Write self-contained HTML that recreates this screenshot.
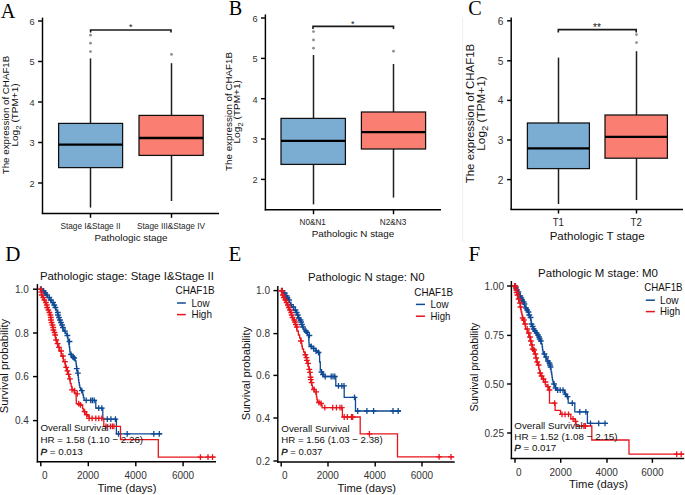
<!DOCTYPE html>
<html><head><meta charset="utf-8"><style>
html,body{margin:0;padding:0;background:#fff;}
svg{display:block;}
text{font-family:"Liberation Sans", sans-serif;}
text.serif{font-family:"Liberation Serif", serif;}
</style></head><body>
<svg width="685" height="495" viewBox="0 0 685 495">
<rect width="685" height="495" fill="#fff"/>
<line x1="42.5" y1="17.6" x2="42.5" y2="214.1" stroke="#000" stroke-width="1.45"/>
<line x1="41.8" y1="213.4" x2="219" y2="213.4" stroke="#000" stroke-width="1.45"/>
<line x1="38.1" y1="21" x2="42.5" y2="21" stroke="#000" stroke-width="1.45"/>
<text x="34.6" y="24.81" font-size="9.2" fill="#333" text-anchor="end">6</text>
<line x1="38.1" y1="61.5" x2="42.5" y2="61.5" stroke="#000" stroke-width="1.45"/>
<text x="34.6" y="65.31" font-size="9.2" fill="#333" text-anchor="end">5</text>
<line x1="38.1" y1="102" x2="42.5" y2="102" stroke="#000" stroke-width="1.45"/>
<text x="34.6" y="105.81" font-size="9.2" fill="#333" text-anchor="end">4</text>
<line x1="38.1" y1="142.5" x2="42.5" y2="142.5" stroke="#000" stroke-width="1.45"/>
<text x="34.6" y="146.31" font-size="9.2" fill="#333" text-anchor="end">3</text>
<line x1="38.1" y1="183" x2="42.5" y2="183" stroke="#000" stroke-width="1.45"/>
<text x="34.6" y="186.81" font-size="9.2" fill="#333" text-anchor="end">2</text>
<line x1="90.5" y1="58.4" x2="90.5" y2="123.4" stroke="#1e1e1e" stroke-width="1.5"/>
<line x1="90.5" y1="167.6" x2="90.5" y2="207.6" stroke="#1e1e1e" stroke-width="1.5"/>
<rect x="58.6" y="123.4" width="64" height="44.2" fill="#7BADD3" stroke="#111" stroke-width="1.25"/>
<line x1="58.6" y1="144.6" x2="122.6" y2="144.6" stroke="#000" stroke-width="2.3"/>
<circle cx="90.5" cy="35.2" r="1.4" fill="#8e8e8e"/>
<circle cx="90.5" cy="43.2" r="1.4" fill="#8e8e8e"/>
<circle cx="90.5" cy="51.6" r="1.4" fill="#8e8e8e"/>
<line x1="90.5" y1="213.4" x2="90.5" y2="217.8" stroke="#000" stroke-width="1.45"/>
<line x1="171.5" y1="63.2" x2="171.5" y2="115.4" stroke="#1e1e1e" stroke-width="1.5"/>
<line x1="171.5" y1="155.4" x2="171.5" y2="201" stroke="#1e1e1e" stroke-width="1.5"/>
<rect x="139" y="115.4" width="64.2" height="40" fill="#FA7F72" stroke="#111" stroke-width="1.25"/>
<line x1="139" y1="138" x2="203.2" y2="138" stroke="#000" stroke-width="2.3"/>
<circle cx="171.5" cy="54.4" r="1.4" fill="#8e8e8e"/>
<line x1="171.5" y1="213.4" x2="171.5" y2="217.8" stroke="#000" stroke-width="1.45"/>
<text x="90.5" y="228.6" font-size="8.6" fill="#1e1e1e" text-anchor="middle" textLength="60" lengthAdjust="spacingAndGlyphs">Stage I&amp;Stage II</text>
<text x="171" y="228.6" font-size="8.6" fill="#1e1e1e" text-anchor="middle" textLength="68" lengthAdjust="spacingAndGlyphs">Stage III&amp;Stage IV</text>
<path d="M90.6,32.6 V30 H171 V32.6" stroke="#1a1a1a" stroke-width="1.6" fill="none"/>
<text x="130.8" y="30" font-size="9" fill="#111" text-anchor="middle">*</text>
<text x="131" y="241" font-size="9.8" fill="#111" text-anchor="middle" textLength="73" lengthAdjust="spacingAndGlyphs">Pathologic stage</text>
<text transform="translate(9.2,115) rotate(-90)" font-size="9.7" fill="#111" text-anchor="middle" textLength="118.5" lengthAdjust="spacingAndGlyphs">The expression of CHAF1B</text>
<text transform="translate(18,115) rotate(-90)" font-size="9.7" fill="#111" text-anchor="middle" textLength="63" lengthAdjust="spacingAndGlyphs">Log<tspan font-size="7.76" dy="2.72">2</tspan><tspan dy="-2.72"> (TPM+1)</tspan></text>
<text class="serif" x="0.8" y="17.8" font-size="20.2" fill="#000" text-anchor="start">A</text>
<line x1="265.4" y1="14.4" x2="265.4" y2="210.5" stroke="#000" stroke-width="1.45"/>
<line x1="264.7" y1="209.8" x2="441" y2="209.8" stroke="#000" stroke-width="1.45"/>
<line x1="261" y1="18" x2="265.4" y2="18" stroke="#000" stroke-width="1.45"/>
<text x="257.5" y="21.81" font-size="9.2" fill="#333" text-anchor="end">6</text>
<line x1="261" y1="58.4" x2="265.4" y2="58.4" stroke="#000" stroke-width="1.45"/>
<text x="257.5" y="62.21" font-size="9.2" fill="#333" text-anchor="end">5</text>
<line x1="261" y1="98.7" x2="265.4" y2="98.7" stroke="#000" stroke-width="1.45"/>
<text x="257.5" y="102.51" font-size="9.2" fill="#333" text-anchor="end">4</text>
<line x1="261" y1="139" x2="265.4" y2="139" stroke="#000" stroke-width="1.45"/>
<text x="257.5" y="142.81" font-size="9.2" fill="#333" text-anchor="end">3</text>
<line x1="261" y1="179.4" x2="265.4" y2="179.4" stroke="#000" stroke-width="1.45"/>
<text x="257.5" y="183.21" font-size="9.2" fill="#333" text-anchor="end">2</text>
<line x1="313.5" y1="55" x2="313.5" y2="118.4" stroke="#1e1e1e" stroke-width="1.5"/>
<line x1="313.5" y1="164.4" x2="313.5" y2="204.4" stroke="#1e1e1e" stroke-width="1.5"/>
<rect x="281" y="118.4" width="64.4" height="46" fill="#7BADD3" stroke="#111" stroke-width="1.25"/>
<line x1="281" y1="140.8" x2="345.4" y2="140.8" stroke="#000" stroke-width="2.3"/>
<circle cx="313.5" cy="31.6" r="1.4" fill="#8e8e8e"/>
<circle cx="313.5" cy="40" r="1.4" fill="#8e8e8e"/>
<circle cx="313.5" cy="48.2" r="1.4" fill="#8e8e8e"/>
<line x1="313.5" y1="209.8" x2="313.5" y2="214.2" stroke="#000" stroke-width="1.45"/>
<line x1="393.5" y1="64" x2="393.5" y2="112" stroke="#1e1e1e" stroke-width="1.5"/>
<line x1="393.5" y1="149" x2="393.5" y2="197.6" stroke="#1e1e1e" stroke-width="1.5"/>
<rect x="361.4" y="112" width="64.2" height="37" fill="#FA7F72" stroke="#111" stroke-width="1.25"/>
<line x1="361.4" y1="132.2" x2="425.6" y2="132.2" stroke="#000" stroke-width="2.3"/>
<circle cx="393.5" cy="51.2" r="1.4" fill="#8e8e8e"/>
<line x1="393.5" y1="209.8" x2="393.5" y2="214.2" stroke="#000" stroke-width="1.45"/>
<text x="312.7" y="224.6" font-size="8.6" fill="#1e1e1e" text-anchor="middle" textLength="26.2" lengthAdjust="spacingAndGlyphs">N0&amp;N1</text>
<text x="393" y="224.6" font-size="8.6" fill="#1e1e1e" text-anchor="middle" textLength="26.6" lengthAdjust="spacingAndGlyphs">N2&amp;N3</text>
<path d="M313,29 V26.4 H393.5 V29" stroke="#1a1a1a" stroke-width="1.6" fill="none"/>
<text x="352.8" y="26.7" font-size="9" fill="#111" text-anchor="middle">*</text>
<text x="353" y="237" font-size="9.8" fill="#111" text-anchor="middle" textLength="82.5" lengthAdjust="spacingAndGlyphs">Pathologic N stage</text>
<text transform="translate(231.5,111.5) rotate(-90)" font-size="9.7" fill="#111" text-anchor="middle" textLength="118.8" lengthAdjust="spacingAndGlyphs">The expression of CHAF1B</text>
<text transform="translate(240.3,111.8) rotate(-90)" font-size="9.7" fill="#111" text-anchor="middle" textLength="63.5" lengthAdjust="spacingAndGlyphs">Log<tspan font-size="7.76" dy="2.72">2</tspan><tspan dy="-2.72"> (TPM+1)</tspan></text>
<text class="serif" x="228.7" y="14.7" font-size="20.2" fill="#000" text-anchor="start">B</text>
<line x1="462.7" y1="17" x2="462.7" y2="242" stroke="#f0f0f0" stroke-width="1"/>
<line x1="511.2" y1="17.6" x2="511.2" y2="210.1" stroke="#000" stroke-width="1.45"/>
<line x1="510.5" y1="209.4" x2="683" y2="209.4" stroke="#000" stroke-width="1.45"/>
<line x1="507.1" y1="20.8" x2="511.2" y2="20.8" stroke="#000" stroke-width="1.45"/>
<text x="503.4" y="24.87" font-size="10.2" fill="#333" text-anchor="end">6</text>
<line x1="507.1" y1="60.8" x2="511.2" y2="60.8" stroke="#000" stroke-width="1.45"/>
<text x="503.4" y="64.87" font-size="10.2" fill="#333" text-anchor="end">5</text>
<line x1="507.1" y1="100.4" x2="511.2" y2="100.4" stroke="#000" stroke-width="1.45"/>
<text x="503.4" y="104.47" font-size="10.2" fill="#333" text-anchor="end">4</text>
<line x1="507.1" y1="140" x2="511.2" y2="140" stroke="#000" stroke-width="1.45"/>
<text x="503.4" y="144.07" font-size="10.2" fill="#333" text-anchor="end">3</text>
<line x1="507.1" y1="179.6" x2="511.2" y2="179.6" stroke="#000" stroke-width="1.45"/>
<text x="503.4" y="183.67" font-size="10.2" fill="#333" text-anchor="end">2</text>
<line x1="558.5" y1="57.6" x2="558.5" y2="123" stroke="#1e1e1e" stroke-width="1.5"/>
<line x1="558.5" y1="168.6" x2="558.5" y2="204" stroke="#1e1e1e" stroke-width="1.5"/>
<rect x="527.4" y="123" width="62" height="45.6" fill="#7BADD3" stroke="#111" stroke-width="1.25"/>
<line x1="527.4" y1="148.4" x2="589.4" y2="148.4" stroke="#000" stroke-width="2.3"/>
<line x1="558.5" y1="209.4" x2="558.5" y2="213.5" stroke="#000" stroke-width="1.45"/>
<line x1="636.5" y1="51.2" x2="636.5" y2="115" stroke="#1e1e1e" stroke-width="1.5"/>
<line x1="636.5" y1="158.2" x2="636.5" y2="200" stroke="#1e1e1e" stroke-width="1.5"/>
<rect x="605" y="115" width="62.4" height="43.2" fill="#FA7F72" stroke="#111" stroke-width="1.25"/>
<line x1="605" y1="136.9" x2="667.4" y2="136.9" stroke="#000" stroke-width="2.3"/>
<circle cx="636.5" cy="34.6" r="1.4" fill="#8e8e8e"/>
<circle cx="636.5" cy="42.6" r="1.4" fill="#8e8e8e"/>
<line x1="636.5" y1="209.4" x2="636.5" y2="213.5" stroke="#000" stroke-width="1.45"/>
<text x="558.3" y="226" font-size="10.3" fill="#1e1e1e" text-anchor="middle" textLength="11.2" lengthAdjust="spacingAndGlyphs">T1</text>
<text x="636.2" y="226" font-size="10.3" fill="#1e1e1e" text-anchor="middle" textLength="11.2" lengthAdjust="spacingAndGlyphs">T2</text>
<path d="M558.3,32.4 V29.6 H636.2 V32.4" stroke="#1a1a1a" stroke-width="1.6" fill="none"/>
<text x="597" y="31.3" font-size="10" fill="#111" text-anchor="middle">**</text>
<text x="597.2" y="239.6" font-size="11.5" fill="#111" text-anchor="middle" textLength="95" lengthAdjust="spacingAndGlyphs">Pathologic T stage</text>
<text transform="translate(474,113.5) rotate(-90)" font-size="11.4" fill="#111" text-anchor="middle" textLength="139.5" lengthAdjust="spacingAndGlyphs">The expression of CHAF1B</text>
<text transform="translate(484.6,113.5) rotate(-90)" font-size="11.4" fill="#111" text-anchor="middle" textLength="74.5" lengthAdjust="spacingAndGlyphs">Log<tspan font-size="9.12" dy="3.19">2</tspan><tspan dy="-3.19"> (TPM+1)</tspan></text>
<text class="serif" x="468.2" y="14.7" font-size="20.2" fill="#000" text-anchor="start">C</text>
<line x1="37.4" y1="284.1" x2="37.4" y2="462.5" stroke="#000" stroke-width="1.45"/>
<line x1="36.7" y1="461.8" x2="216" y2="461.8" stroke="#000" stroke-width="1.45"/>
<line x1="33" y1="289.2" x2="37.4" y2="289.2" stroke="#000" stroke-width="1.45"/>
<text x="28.9" y="292.8" font-size="10" fill="#333" text-anchor="end">1.0</text>
<line x1="33" y1="333" x2="37.4" y2="333" stroke="#000" stroke-width="1.45"/>
<text x="28.9" y="336.6" font-size="10" fill="#333" text-anchor="end">0.8</text>
<line x1="33" y1="376.6" x2="37.4" y2="376.6" stroke="#000" stroke-width="1.45"/>
<text x="28.9" y="380.2" font-size="10" fill="#333" text-anchor="end">0.6</text>
<line x1="33" y1="420.6" x2="37.4" y2="420.6" stroke="#000" stroke-width="1.45"/>
<text x="28.9" y="424.2" font-size="10" fill="#333" text-anchor="end">0.4</text>
<line x1="40.8" y1="461.8" x2="40.8" y2="466.2" stroke="#000" stroke-width="1.45"/>
<text x="44.9" y="478.9" font-size="10" fill="#333" text-anchor="middle">0</text>
<line x1="88.3" y1="461.8" x2="88.3" y2="466.2" stroke="#000" stroke-width="1.45"/>
<text x="88" y="478.9" font-size="10" fill="#333" text-anchor="middle">2000</text>
<line x1="135.8" y1="461.8" x2="135.8" y2="466.2" stroke="#000" stroke-width="1.45"/>
<text x="135.6" y="478.9" font-size="10" fill="#333" text-anchor="middle">4000</text>
<line x1="183.1" y1="461.8" x2="183.1" y2="466.2" stroke="#000" stroke-width="1.45"/>
<text x="183" y="478.9" font-size="10" fill="#333" text-anchor="middle">6000</text>
<text x="39.9" y="279.5" font-size="11" fill="#111" text-anchor="start" textLength="174" lengthAdjust="spacingAndGlyphs">Pathologic stage: Stage I&amp;Stage II</text>
<text x="175.5" y="294" font-size="10.1" fill="#111" text-anchor="start" textLength="39" lengthAdjust="spacingAndGlyphs">CHAF1B</text>
<line x1="177" y1="303" x2="185.8" y2="303" stroke="#0E4A94" stroke-width="1.5"/>
<line x1="177" y1="314.6" x2="185.8" y2="314.6" stroke="#E8141C" stroke-width="1.5"/>
<text x="191.5" y="306.6" font-size="10.1" fill="#111" text-anchor="start" textLength="18" lengthAdjust="spacingAndGlyphs">Low</text>
<text x="191.5" y="317.8" font-size="10.1" fill="#111" text-anchor="start" textLength="20.4" lengthAdjust="spacingAndGlyphs">High</text>
<path d="M40.8,289.2 H41.9 V291 H43.85 V293 H45.55 V295 H47.37 V297.5 H49.32 V300 H51.22 V302.5 H53.08 V305 H54.65 V307.5 H55.95 V310 H57 V312.5 H57.8 V315 H58.5 V317.5 H59.1 V320 H60 V322.5 H61.2 V325 H62.2 V327.5 H63 V330 H64.2 V331.2 H65.6 V333.35 H66.8 V335.5 H67.6 V337.53 H68 V339.57 H68.4 V341.6 H68.82 V344.3 H69.28 V347 H69.62 V349.23 H69.85 V351.47 H70.08 V353.7 H71.6 V357 H73.72 V359 H75.18 V361 H76.03 V363.57 H76.3 V366.13 H76.57 V368.7 H77 V370.9 H77.6 V373.1 H78.02 V375.4 H78.25 V377.7 H78.48 V380 H78.83 V382.53 H79.3 V385.07 H79.77 V387.6 H80.62 V389.8 H81.88 V392 H82.82 V394.8 H83.45 V397.6 H84.08 V400.4 H95.8 V408.1 H102.8 V419.2 H116.4 V433.9 H162.1 V433.9" stroke="#0E4A94" stroke-width="1.3" fill="none" stroke-linejoin="miter"/>
<path d="M41.39,286.3V292.1M38.49,289.2H44.29M43.7,288.1V293.9M40.8,291H46.6M45.28,290.1V295.9M42.38,293H48.18M46.9,292.1V297.9M44,295H49.8M49.31,294.6V300.4M46.41,297.5H52.21M50.97,297.1V302.9M48.07,300H53.87M53.07,299.6V305.4M50.17,302.5H55.97M54.22,302.1V307.9M51.32,305H57.12M55.38,304.6V310.4M52.48,307.5H58.28M57.78,309.6V315.4M54.88,312.5H60.68M57.94,312.1V317.9M55.04,315H60.84M58.97,314.6V320.4M56.07,317.5H61.87M59.98,317.1V322.9M57.08,320H62.88M60.94,319.6V325.4M58.04,322.5H63.84M62.06,322.1V327.9M59.16,325H64.96M62.87,324.6V330.4M59.97,327.5H65.77M65,328.3V334.1M62.1,331.2H67.9M67.4,332.6V338.4M64.5,335.5H70.3M69.5,338.6V344.4M66.6,341.5H72.4M71,351.6V357.4M68.1,354.5H73.9M73,354.1V359.9M70.1,357H75.9M74.2,355.1V360.9M71.3,358H77.1M76.7,365.8V371.6M73.8,368.7H79.6M77.9,370.2V376M75,373.1H80.8M81.8,387.8V393.6M78.9,390.7H84.7M86.2,397.5V403.3M83.3,400.4H89.1M90.7,397.5V403.3M87.8,400.4H93.6M92.4,397.5V403.3M89.5,400.4H95.3M94.2,397.5V403.3M91.3,400.4H97.1M98.7,405.2V411M95.8,408.1H101.6M101.8,405.2V411M98.9,408.1H104.7M107.3,416.3V422.1M104.4,419.2H110.2M110.9,416.3V422.1M108,419.2H113.8M115.4,416.3V422.1M112.5,419.2H118.3M118.5,431V436.8M115.6,433.9H121.4M127.2,431V436.8M124.3,433.9H130.1M153.8,431V436.8M150.9,433.9H156.7M159.3,431V436.8M156.4,433.9H162.2" stroke="#0E4A94" stroke-width="1.3" fill="none"/>
<path d="M40.8,289.2 H41 V292.1 H41.4 V295 H42.23 V297.5 H43.48 V300 H44.73 V302.5 H45.98 V305 H47 V307.5 H47.8 V310 H48.68 V312.5 H49.62 V315 H50.4 V317.5 H51 V320 H51.5 V322.5 H51.9 V325 H52.5 V327.5 H53.3 V330 H54.03 V332.5 H54.67 V335 H55.6 V340 H56.75 V343.6 H58.05 V347.3 H59.55 V351 H61.25 V356 H63.3 V361.6 H65.3 V367.3 H66.77 V370.85 H67.92 V374.4 H69.08 V378.95 H70.22 V383.5 H71.2 V386.4 H72 V389.3 H74.2 V393 H76.05 V395.65 H76.15 V398.3 H76.25 V400.95 H76.35 V403.6 H77.85 V404.45 H80.75 V405.3 H82.55 V408.45 H83.25 V411.6 H85.15 V414.7 H87.35 V416 H89.35 V418.4 H103.8 V426.3 H120.5 V439.6 H158.3 V457.2 H215.6 V457.2" stroke="#E8141C" stroke-width="1.3" fill="none" stroke-linejoin="miter"/>
<path d="M40.43,286.3V292.1M37.53,289.2H43.33M41.35,289.2V295M38.45,292.1H44.25M41.78,292.1V297.9M38.88,295H44.68M43.29,294.6V300.4M40.39,297.5H46.19M44.36,297.1V302.9M41.46,300H47.26M45.88,299.6V305.4M42.98,302.5H48.78M46.76,302.1V307.9M43.86,305H49.66M47.2,304.6V310.4M44.3,307.5H50.1M48.35,307.1V312.9M45.45,310H51.25M49.46,309.6V315.4M46.56,312.5H52.36M50.38,312.1V317.9M47.48,315H53.28M50.81,314.6V320.4M47.91,317.5H53.71M50.96,317.1V322.9M48.06,320H53.86M51.56,319.6V325.4M48.66,322.5H54.46M52.49,322.1V327.9M49.59,325H55.39M53.22,324.6V330.4M50.32,327.5H56.12M53.43,327.1V332.9M50.53,330H56.33M54.57,329.6V335.4M51.67,332.5H57.47M55.12,332.1V337.9M52.22,335H58.02M56.21,337.1V342.9M53.31,340H59.11M57.58,340.7V346.5M54.68,343.6H60.48M58.96,344.4V350.2M56.06,347.3H61.86M61.15,348.1V353.9M58.25,351H64.05M62.87,353.1V358.9M59.97,356H65.77M64.98,358.7V364.5M62.08,361.6H67.88M66.22,364.4V370.2M63.32,367.3H69.12M67.43,367.95V373.75M64.53,370.85H70.33M68.55,371.5V377.3M65.65,374.4H71.45M69.95,376.05V381.85M67.05,378.95H72.85M72,386.9V392.7M69.1,389.8H74.9M74.7,387.8V393.6M71.8,390.7H77.6M77.3,390.9V396.7M74.4,393.8H80.2M78.7,400.7V406.5M75.8,403.6H81.6M80.4,402V407.8M77.5,404.9H83.3M84.6,408.7V414.5M81.7,411.6H87.5M86.7,411.8V417.6M83.8,414.7H89.6M89.1,415.5V421.3M86.2,418.4H92M92.1,415.5V421.3M89.2,418.4H95M95.8,415.5V421.3M92.9,418.4H98.7M98.8,415.5V421.3M95.9,418.4H101.7M101.8,415.5V421.3M98.9,418.4H104.7M106,423.4V429.2M103.1,426.3H108.9M110.4,423.4V429.2M107.5,426.3H113.3M112.4,423.4V429.2M109.5,426.3H115.3M113.9,423.4V429.2M111,426.3H116.8M200.4,454.3V460.1M197.5,457.2H203.3M208,454.3V460.1M205.1,457.2H210.9M212.5,454.3V460.1M209.6,457.2H215.4" stroke="#E8141C" stroke-width="1.3" fill="none"/>
<text x="40.4" y="431.4" font-size="9.7" fill="#111" text-anchor="start" textLength="68.4" lengthAdjust="spacingAndGlyphs">Overall Survival</text>
<text x="40.4" y="443" font-size="9.7" fill="#111" text-anchor="start" textLength="102.7" lengthAdjust="spacingAndGlyphs">HR = 1.58 (1.10 − 2.26)</text>
<text x="40.4" y="454.7" font-size="9.7" fill="#111" textLength="42.4" lengthAdjust="spacingAndGlyphs"><tspan font-style="italic" stroke="#111" stroke-width="0.35">P</tspan> = 0.013</text>
<text x="127" y="491.6" font-size="11" fill="#111" text-anchor="middle" textLength="59" lengthAdjust="spacingAndGlyphs">Time (days)</text>
<text transform="translate(8,366) rotate(-90)" font-size="11.2" fill="#111" text-anchor="middle" textLength="94.5" lengthAdjust="spacingAndGlyphs">Survival probability</text>
<text class="serif" x="5.2" y="260.8" font-size="21" fill="#000" text-anchor="start">D</text>
<line x1="277.8" y1="286" x2="277.8" y2="462.7" stroke="#000" stroke-width="1.45"/>
<line x1="277.1" y1="462" x2="454.7" y2="462" stroke="#000" stroke-width="1.45"/>
<line x1="273.4" y1="290.6" x2="277.8" y2="290.6" stroke="#000" stroke-width="1.45"/>
<text x="270" y="294.2" font-size="10" fill="#333" text-anchor="end">1.0</text>
<line x1="273.4" y1="333.6" x2="277.8" y2="333.6" stroke="#000" stroke-width="1.45"/>
<text x="270" y="337.2" font-size="10" fill="#333" text-anchor="end">0.8</text>
<line x1="273.4" y1="375.4" x2="277.8" y2="375.4" stroke="#000" stroke-width="1.45"/>
<text x="270" y="379" font-size="10" fill="#333" text-anchor="end">0.6</text>
<line x1="273.4" y1="418" x2="277.8" y2="418" stroke="#000" stroke-width="1.45"/>
<text x="270" y="421.6" font-size="10" fill="#333" text-anchor="end">0.4</text>
<line x1="273.4" y1="461" x2="277.8" y2="461" stroke="#000" stroke-width="1.45"/>
<text x="270" y="464.6" font-size="10" fill="#333" text-anchor="end">0.2</text>
<line x1="281.2" y1="462" x2="281.2" y2="466.4" stroke="#000" stroke-width="1.45"/>
<text x="284.9" y="479" font-size="10" fill="#333" text-anchor="middle">0</text>
<line x1="328" y1="462" x2="328" y2="466.4" stroke="#000" stroke-width="1.45"/>
<text x="327.8" y="479" font-size="10" fill="#333" text-anchor="middle">2000</text>
<line x1="375.2" y1="462" x2="375.2" y2="466.4" stroke="#000" stroke-width="1.45"/>
<text x="374.8" y="479" font-size="10" fill="#333" text-anchor="middle">4000</text>
<line x1="422" y1="462" x2="422" y2="466.4" stroke="#000" stroke-width="1.45"/>
<text x="421.9" y="479" font-size="10" fill="#333" text-anchor="middle">6000</text>
<text x="308" y="281" font-size="11.3" fill="#111" text-anchor="start" textLength="116.7" lengthAdjust="spacingAndGlyphs">Pathologic N stage: N0</text>
<text x="414.3" y="295.5" font-size="10.1" fill="#111" text-anchor="start" textLength="38.7" lengthAdjust="spacingAndGlyphs">CHAF1B</text>
<line x1="415.9" y1="304.4" x2="425" y2="304.4" stroke="#0E4A94" stroke-width="1.5"/>
<line x1="415.9" y1="316.2" x2="425" y2="316.2" stroke="#E8141C" stroke-width="1.5"/>
<text x="430.6" y="308.2" font-size="10.1" fill="#111" text-anchor="start" textLength="18" lengthAdjust="spacingAndGlyphs">Low</text>
<text x="430.6" y="320" font-size="10.1" fill="#111" text-anchor="start" textLength="19.8" lengthAdjust="spacingAndGlyphs">High</text>
<path d="M281.2,290.6 H282.6 V293 H285.1 V296 H286.8 V298 H288 V300 H289.18 V302.33 H290.35 V304.67 H291.52 V307 H293.65 V310 H295.8 V312.5 H297 V315 H298.15 V318 H299.35 V320 H300.65 V322 H301.65 V324.5 H302.35 V327 H303.42 V329 H304.88 V331 H306.3 V332.4 H307.75 V335 H308.59 V337.5 H308.76 V340 H308.94 V342.5 H309.11 V345 H311.2 V346.5 H313.6 V348.5 H316 V351 H318.8 V352.5 H319.6 V362 H320.3 V370 H321.5 V372 H323 V376.5 H335.8 V385.8 H344.2 V397.3 H355.5 V411 H400.8 V411" stroke="#0E4A94" stroke-width="1.3" fill="none" stroke-linejoin="miter"/>
<path d="M282.27,287.7V293.5M279.37,290.6H285.17M284.74,290.1V295.9M281.84,293H287.64M286.76,293.1V298.9M283.86,296H289.66M287.5,295.1V300.9M284.6,298H290.4M289.04,297.1V302.9M286.14,300H291.94M291.01,301.77V307.57M288.11,304.67H293.91M293.27,304.1V309.9M290.37,307H296.17M295.42,307.1V312.9M292.52,310H298.32M296.69,309.6V315.4M293.79,312.5H299.59M297.75,312.1V317.9M294.85,315H300.65M298.9,315.1V320.9M296,318H301.8M300.47,317.1V322.9M297.57,320H303.37M301.13,319.1V324.9M298.23,322H304.03M301.92,321.6V327.4M299.02,324.5H304.82M303,324.1V329.9M300.1,327H305.9M305.82,328.1V333.9M302.92,331H308.72M307,329.5V335.3M304.1,332.4H309.9M309.4,332.6V338.4M306.5,335.5H312.3M311.2,343.6V349.4M308.3,346.5H314.1M313.6,345.6V351.4M310.7,348.5H316.5M316,348.1V353.9M313.1,351H318.9M318.5,349.6V355.4M315.6,352.5H321.4M321.5,369.1V374.9M318.6,372H324.4M323,371.6V377.4M320.1,374.5H325.9M325.2,373.6V379.4M322.3,376.5H328.1M331.2,373.6V379.4M328.3,376.5H334.1M333,373.6V379.4M330.1,376.5H335.9M334.8,373.6V379.4M331.9,376.5H337.7M338.5,382.9V388.7M335.6,385.8H341.4M341.8,382.9V388.7M338.9,385.8H344.7M344,382.9V388.7M341.1,385.8H346.9M354.5,394.4V400.2M351.6,397.3H357.4M357.7,408.1V413.9M354.8,411H360.6M366.9,408.1V413.9M364,411H369.8M373.6,408.1V413.9M370.7,411H376.5M393,408.1V413.9M390.1,411H395.9M398.2,408.1V413.9M395.3,411H401.1" stroke="#0E4A94" stroke-width="1.3" fill="none"/>
<path d="M281.2,290.6 H281.5 V291 H282.15 V295 H283.1 V297.5 H284.3 V300 H285.5 V302.5 H286.7 V305 H287.97 V307.5 H289.32 V310 H290.43 V312.5 H291.27 V315 H292.15 V317.5 H293.05 V320 H294.3 V322 H295.38 V324.5 H295.93 V327 H296.9 V331 H298.35 V335 H299.65 V338 H300.75 V341 H301.47 V343.5 H301.82 V346 H302.35 V349 H303.6 V352 H304.92 V354.77 H305.75 V357.53 H306.58 V360.3 H307.38 V363.32 H308.12 V366.35 H308.88 V369.38 H309.62 V372.4 H310.15 V374.83 H310.45 V377.27 H310.75 V379.7 H311.2 V382.53 H311.8 V385.37 H312.4 V388.2 H314.25 V391.8 H316.02 V394.35 H316.48 V396.9 H316.93 V399.45 H317.38 V402 H319.4 V403.3 H321.5 V405.45 H322.1 V407.6 H342.4 V417 H360.2 V433.9 H397.5 V456.9 H454.3 V456.9" stroke="#E8141C" stroke-width="1.3" fill="none" stroke-linejoin="miter"/>
<path d="M281.44,287.7V293.5M278.54,290.6H284.34M282.06,288.1V293.9M279.16,291H284.96M282.86,292.1V297.9M279.96,295H285.76M283.82,294.6V300.4M280.92,297.5H286.72M285.37,297.1V302.9M282.47,300H288.27M286.53,299.6V305.4M283.63,302.5H289.43M287.91,302.1V307.9M285.01,305H290.81M288.77,304.6V310.4M285.87,307.5H291.67M289.94,307.1V312.9M287.04,310H292.84M291.16,309.6V315.4M288.26,312.5H294.06M291.77,312.1V317.9M288.87,315H294.67M292.54,314.6V320.4M289.64,317.5H295.44M294.25,317.1V322.9M291.35,320H297.15M294.97,319.1V324.9M292.07,322H297.87M295.82,321.6V327.4M292.92,324.5H298.72M296.85,324.1V329.9M293.95,327H299.75M300.93,338.1V343.9M298.03,341H303.83M305.39,351.87V357.67M302.49,354.77H308.29M306.49,354.63V360.43M303.59,357.53H309.39M306.89,357.4V363.2M303.99,360.3H309.79M308.1,360.43V366.22M305.2,363.32H311M309.3,366.48V372.27M306.4,369.38H312.2M309.94,369.5V375.3M307.04,372.4H312.84M310.5,374.37V380.17M307.6,377.27H313.4M310.82,376.8V382.6M307.92,379.7H313.72M311.59,379.63V385.43M308.69,382.53H314.49M314,386.6V392.4M311.1,389.5H316.9M316.2,388.9V394.7M313.3,391.8H319.1M319,399.6V405.4M316.1,402.5H321.9M321,400.6V406.4M318.1,403.5H323.9M324.8,404.7V410.5M321.9,407.6H327.7M332.7,404.7V410.5M329.8,407.6H335.6M336.4,404.7V410.5M333.5,407.6H339.3M340,404.7V410.5M337.1,407.6H342.9M341.8,404.7V410.5M338.9,407.6H344.7M344.2,414.1V419.9M341.3,417H347.1M347.3,414.1V419.9M344.4,417H350.2M351.5,414.1V419.9M348.6,417H354.4M352.7,414.1V419.9M349.8,417H355.6M369.4,431V436.8M366.5,433.9H372.3M439.1,454V459.8M436.2,456.9H442M451,454V459.8M448.1,456.9H453.9" stroke="#E8141C" stroke-width="1.3" fill="none"/>
<text x="281.3" y="432" font-size="9.7" fill="#111" text-anchor="start" textLength="68.4" lengthAdjust="spacingAndGlyphs">Overall Survival</text>
<text x="281.3" y="443" font-size="9.7" fill="#111" text-anchor="start" textLength="101.3" lengthAdjust="spacingAndGlyphs">HR = 1.56 (1.03 − 2.38)</text>
<text x="281.3" y="454.6" font-size="9.7" fill="#111" textLength="41" lengthAdjust="spacingAndGlyphs"><tspan font-style="italic" stroke="#111" stroke-width="0.35">P</tspan> = 0.037</text>
<text x="366.8" y="491.6" font-size="11" fill="#111" text-anchor="middle" textLength="58.5" lengthAdjust="spacingAndGlyphs">Time (days)</text>
<text transform="translate(249.6,373.5) rotate(-90)" font-size="11.2" fill="#111" text-anchor="middle" textLength="93.5" lengthAdjust="spacingAndGlyphs">Survival probability</text>
<text class="serif" x="228.4" y="260.8" font-size="21" fill="#000" text-anchor="start">E</text>
<line x1="511.4" y1="281" x2="511.4" y2="459.2" stroke="#000" stroke-width="1.45"/>
<line x1="510.7" y1="458.5" x2="684.2" y2="458.5" stroke="#000" stroke-width="1.45"/>
<line x1="507.1" y1="286" x2="511.4" y2="286" stroke="#000" stroke-width="1.45"/>
<text x="504" y="289.6" font-size="10" fill="#333" text-anchor="end">1.00</text>
<line x1="507.1" y1="335.4" x2="511.4" y2="335.4" stroke="#000" stroke-width="1.45"/>
<text x="504" y="339" font-size="10" fill="#333" text-anchor="end">0.75</text>
<line x1="507.1" y1="384" x2="511.4" y2="384" stroke="#000" stroke-width="1.45"/>
<text x="504" y="387.6" font-size="10" fill="#333" text-anchor="end">0.50</text>
<line x1="507.1" y1="433" x2="511.4" y2="433" stroke="#000" stroke-width="1.45"/>
<text x="504" y="436.6" font-size="10" fill="#333" text-anchor="end">0.25</text>
<line x1="515" y1="458.5" x2="515" y2="462.8" stroke="#000" stroke-width="1.45"/>
<text x="518.9" y="475.5" font-size="10" fill="#333" text-anchor="middle">0</text>
<line x1="560.7" y1="458.5" x2="560.7" y2="462.8" stroke="#000" stroke-width="1.45"/>
<text x="560.7" y="475.5" font-size="10" fill="#333" text-anchor="middle">2000</text>
<line x1="607" y1="458.5" x2="607" y2="462.8" stroke="#000" stroke-width="1.45"/>
<text x="606.7" y="475.5" font-size="10" fill="#333" text-anchor="middle">4000</text>
<line x1="652.4" y1="458.5" x2="652.4" y2="462.8" stroke="#000" stroke-width="1.45"/>
<text x="652.4" y="475.5" font-size="10" fill="#333" text-anchor="middle">6000</text>
<text x="538.1" y="276.9" font-size="11.3" fill="#111" text-anchor="start" textLength="119.9" lengthAdjust="spacingAndGlyphs">Pathologic M stage: M0</text>
<text x="644.3" y="291.2" font-size="10.1" fill="#111" text-anchor="start" textLength="38.2" lengthAdjust="spacingAndGlyphs">CHAF1B</text>
<line x1="645.8" y1="300.2" x2="654.9" y2="300.2" stroke="#0E4A94" stroke-width="1.5"/>
<line x1="645.8" y1="311.6" x2="654.9" y2="311.6" stroke="#E8141C" stroke-width="1.5"/>
<text x="660.1" y="303.9" font-size="10.1" fill="#111" text-anchor="start" textLength="18.4" lengthAdjust="spacingAndGlyphs">Low</text>
<text x="660.1" y="315.3" font-size="10.1" fill="#111" text-anchor="start" textLength="20" lengthAdjust="spacingAndGlyphs">High</text>
<path d="M515,286 H515.5 V288 H516.5 V290 H517.5 V292 H518.62 V294 H519.88 V296 H520.88 V298 H521.62 V300 H522.55 V302 H523.65 V304 H524.55 V306 H525.25 V308 H526.15 V310 H527.25 V312 H528.55 V315 H529.75 V317.5 H530.65 V320 H531.2 V322 H531.4 V324 H532.02 V326.5 H533.08 V329 H534.25 V331 H535.55 V333 H536.83 V335 H538.08 V337 H539.15 V339 H540.05 V341 H541.25 V344 H542.17 V347 H542.53 V350 H542.98 V352 H543.52 V354 H544.7 V357 H546.15 V359 H547.25 V361 H548.35 V363 H549.45 V365 H550.17 V367 H550.53 V369 H551.1 V372 H551.68 V374.67 H552.05 V377.33 H552.42 V380 H552.95 V382 H553.65 V384 H554.5 V386 H555.5 V388 H556.8 V390.1 H564.5 V394.1 H566.7 V396.7 H568.2 V403.2 H574.8 V411.8 H587.4 V423.4 H607.8 V423.4" stroke="#0E4A94" stroke-width="1.3" fill="none" stroke-linejoin="miter"/>
<path d="M515.05,283.1V288.9M512.15,286H517.95M515.93,285.1V290.9M513.03,288H518.83M516.95,287.1V292.9M514.05,290H519.85M518.35,289.1V294.9M515.45,292H521.25M520.33,293.1V298.9M517.43,296H523.23M521.34,295.1V300.9M518.44,298H524.24M522.22,297.1V302.9M519.32,300H525.12M523.64,299.1V304.9M520.74,302H526.54M524.38,301.1V306.9M521.48,304H527.28M526.05,305.1V310.9M523.15,308H528.95M527.17,307.1V312.9M524.27,310H530.07M528.47,309.1V314.9M525.57,312H531.37M529.23,312.1V317.9M526.33,315H532.13M530.52,314.6V320.4M527.62,317.5H533.42M531.45,321.1V326.9M528.55,324H534.35M532.67,323.6V329.4M529.77,326.5H535.57M533.69,326.1V331.9M530.79,329H536.59M534.97,328.1V333.9M532.07,331H537.87M536.65,330.1V335.9M533.75,333H539.55M537.98,332.1V337.9M535.08,335H540.88M539.11,334.1V339.9M536.21,337H542.01M539.69,336.1V341.9M536.79,339H542.59M540.84,338.1V343.9M537.94,341H543.74M544.41,351.1V356.9M541.51,354H547.31M546.12,354.1V359.9M543.22,357H549.02M547.9,358.1V363.9M545,361H550.8M549.44,360.1V365.9M546.54,363H552.34M549.96,362.1V367.9M547.06,365H552.86M550.52,364.1V369.9M547.62,367H553.42M554,381.1V386.9M551.1,384H556.9M555.6,385.1V390.9M552.7,388H558.5M557.6,387.2V393M554.7,390.1H560.5M560.2,387.2V393M557.3,390.1H563.1M563,387.2V393M560.1,390.1H565.9M565.5,391.2V397M562.6,394.1H568.4M567.5,393.8V399.6M564.6,396.7H570.4M572.3,400.3V406.1M569.4,403.2H575.2M579.8,408.9V414.7M576.9,411.8H582.7M585.9,408.9V414.7M583,411.8H588.8M590.5,420.5V426.3M587.6,423.4H593.4M598.7,420.5V426.3M595.8,423.4H601.6M605,420.5V426.3M602.1,423.4H607.9" stroke="#0E4A94" stroke-width="1.3" fill="none"/>
<path d="M515,286 H515.05 V286.5 H515.8 V290 H516.7 V292.5 H517.1 V295 H517.85 V299 H519.1 V303 H520.35 V307 H520.9 V310 H521.18 V312 H521.73 V314 H522.17 V316 H522.53 V318 H523.1 V320 H524 V324 H525.6 V329 H527.45 V333 H528.9 V337 H530.15 V341 H531.25 V345 H532.35 V349 H533.25 V350 H534.35 V354 H535.8 V358 H536.7 V362 H537.45 V365 H538.75 V369 H539.58 V371 H539.72 V373 H540.55 V376 H542 V379 H543.6 V382 H545.45 V385 H547.2 V386.6 H548.75 V390 H549.5 V392.64 H549.5 V395.28 H549.5 V397.92 H549.5 V400.56 H549.5 V403.2 H555.1 V410.3 H560.5 V414.3 H570.8 V418.9 H575.3 V421.4 H576 V426 H591.8 V440 H629 V454.1 H684.2 V454.1" stroke="#E8141C" stroke-width="1.3" fill="none" stroke-linejoin="miter"/>
<path d="M514.56,283.1V288.9M511.66,286H517.46M515.64,283.6V289.4M512.74,286.5H518.54M516.3,287.1V292.9M513.4,290H519.2M516.64,289.6V295.4M513.74,292.5H519.54M517.39,292.1V297.9M514.49,295H520.29M518.62,296.1V301.9M515.72,299H521.52M520.1,300.1V305.9M517.2,303H523M520.49,304.1V309.9M517.59,307H523.39M522.69,315.1V320.9M519.79,318H525.59M523.8,317.1V322.9M520.9,320H526.7M525.12,321.1V326.9M522.22,324H528.02M527.18,326.1V331.9M524.28,329H530.08M528.78,330.1V335.9M525.88,333H531.68M529.98,334.1V339.9M527.08,337H532.88M530.9,338.1V343.9M528,341H533.8M531.96,342.1V347.9M529.06,345H534.86M532.69,346.1V351.9M529.79,349H535.59M534.04,347.1V352.9M531.14,350H536.94M535.38,351.1V356.9M532.48,354H538.28M536.11,355.1V360.9M533.21,358H539.01M537.23,359.1V364.9M534.33,362H540.13M538.57,362.1V367.9M535.67,365H541.47M540.23,370.1V375.9M537.33,373H543.13M541.6,373.1V378.9M538.7,376H544.5M543.48,376.1V381.9M540.58,379H546.38M545.37,379.1V384.9M542.47,382H548.27M548,383.7V389.5M545.1,386.6H550.9M549.5,387.1V392.9M546.6,390H552.4M554.6,400.3V406.1M551.7,403.2H557.5M562,411.4V417.2M559.1,414.3H564.9M565,411.4V417.2M562.1,414.3H567.9M568.5,411.4V417.2M565.6,414.3H571.4M573,416V421.8M570.1,418.9H575.9M575.5,418.5V424.3M572.6,421.4H578.4M583.9,423.1V428.9M581,426H586.8M585.4,423.1V428.9M582.5,426H588.3M676.7,451.2V457M673.8,454.1H679.6M681.2,451.2V457M678.3,454.1H684.1" stroke="#E8141C" stroke-width="1.3" fill="none"/>
<text x="514.3" y="428.8" font-size="9.7" fill="#111" text-anchor="start" textLength="68.4" lengthAdjust="spacingAndGlyphs">Overall Survival</text>
<text x="514.3" y="440.2" font-size="9.7" fill="#111" text-anchor="start" textLength="103.3" lengthAdjust="spacingAndGlyphs">HR = 1.52 (1.08 − 2.15)</text>
<text x="514.3" y="451.4" font-size="9.7" fill="#111" textLength="42" lengthAdjust="spacingAndGlyphs"><tspan font-style="italic" stroke="#111" stroke-width="0.35">P</tspan> = 0.017</text>
<text x="598.6" y="488" font-size="11" fill="#111" text-anchor="middle" textLength="59" lengthAdjust="spacingAndGlyphs">Time (days)</text>
<text transform="translate(477.6,367) rotate(-90)" font-size="10.6" fill="#111" text-anchor="middle" textLength="88.8" lengthAdjust="spacingAndGlyphs">Survival probability</text>
<text class="serif" x="468.4" y="260.8" font-size="21" fill="#000" text-anchor="start">F</text>
</svg>
</body></html>
